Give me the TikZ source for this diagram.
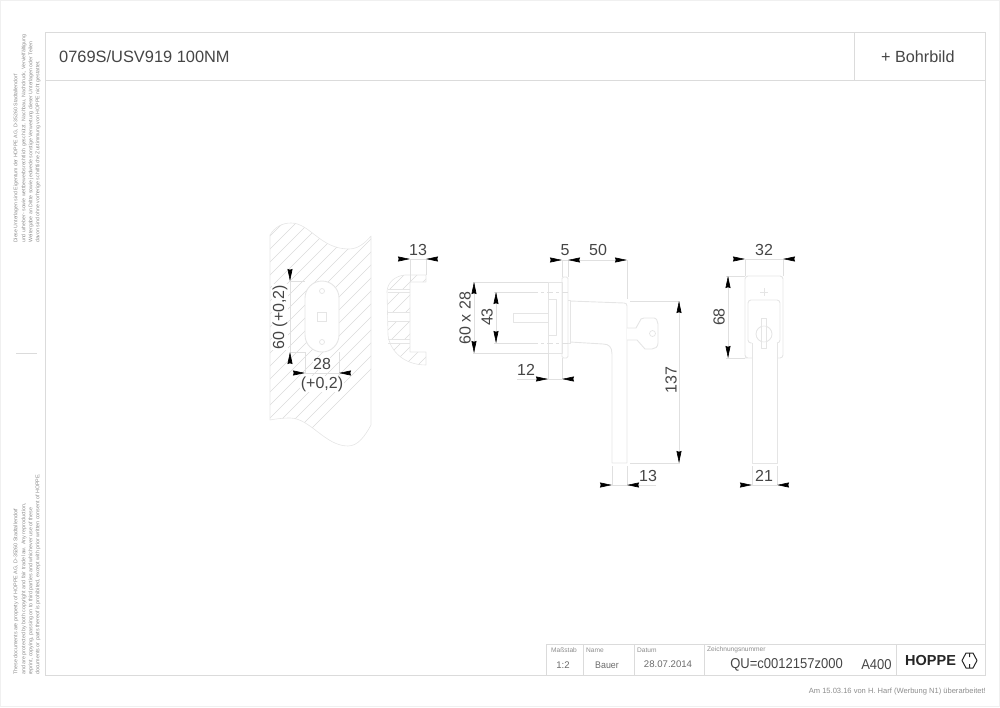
\documentclass[tikz,border=0pt]{standalone}
\usepackage{fontspec}
\setmainfont{Liberation Sans}
\usetikzlibrary{arrows.meta}
\definecolor{linegray}{rgb}{0.90,0.90,0.90}
\definecolor{dimgray}{rgb}{0.88,0.88,0.88}
\definecolor{framegray}{rgb}{0.86,0.86,0.86}
\definecolor{hatchgray}{rgb}{0.86,0.86,0.86}
\definecolor{dimtext}{rgb}{0.27,0.27,0.27}
\definecolor{smalltext}{rgb}{0.55,0.55,0.55}
\tikzset{
  part/.style={draw=linegray,line width=0.9pt,line join=round},
  thin part/.style={draw=linegray,line width=0.7pt},
  frameline/.style={draw=framegray,line width=0.9pt},
  hatchline/.style={draw=hatchgray,line width=0.6pt},
  dimline/.style={draw=dimgray,line width=0.6pt},
  dimarrow/.style={dimline,-{Stealth[black,length=12pt,width=5pt,inset=0.8pt]}},
  dimlabel/.style={text=dimtext,font=\fontsize{16}{16}\selectfont,inner sep=0.5pt},
  whitelabel/.style={dimlabel,fill=white},
  sidenote/.style={text=smalltext,font=\fontsize{5.2}{6}\selectfont,rotate=90,anchor=west,inner sep=0pt},
  sidenote en/.style={sidenote,font=\fontsize{5.35}{6}\selectfont},
  fieldhead/.style={text=smalltext,font=\fontsize{6.6}{7}\selectfont,anchor=west,inner sep=0pt},
  fieldvalue/.style={text=dimtext!80!white,font=\fontsize{9.6}{10}\selectfont,inner sep=0pt},
}
\newcommand{\hatchlines}[3]{% ymin ymax xrange-list
  \foreach \hx in {#3} {\draw[hatchline] (\hx,#2) -- ({\hx+#2-#1},#1);}}
\newcommand{\plateoutline}{(270,235) .. controls (275,227) and (282,223) .. (291,223) .. controls (310,223) and (320,249) .. (349,249) .. controls (358,249) and (365,243) .. (371,236) -- (371,425) .. controls (365,436) and (358,446) .. (348,446) .. controls (325,446) and (310,418) .. (290,418) .. controls (282,418) and (275,419) .. (270,420) -- cycle}
\newcommand{\coveroutline}{(426,275) -- (405,275) .. controls (395,276) and (388,282) .. (387,291) -- (388,335) .. controls (390,352) and (405,365) .. (426,365) -- (426,352) -- (410,352) -- (410,282) -- (426,282) -- cycle}
\begin{document}
\begin{tikzpicture}[x=1pt,y=-1pt]
\useasboundingbox (0,0) rectangle (1000,707);
\draw[draw=black!6,line width=0.8pt] (0.5,0.5) rectangle (999.5,706.5);
% sheet frame
\draw[frameline] (45,32) rectangle (985,675);
\draw[frameline] (45,80) -- (985,80);
\draw[frameline] (854,32) -- (854,80);
\node[text=dimtext,font=\fontsize{16.4}{17}\selectfont,anchor=west,inner sep=0pt] (title) at (59,57) {0769S/USV919 100NM};
\node[text=dimtext,font=\fontsize{16.2}{17}\selectfont,anchor=west,inner sep=0pt] (bohr) at (881,57) {+ Bohrbild};
% side notes
\node[sidenote] (de1) at (16,243) {Diese Unterlagen sind Eigentum der HOPPE AG, D-35260 Stadtallendorf};
\node[sidenote] (de2) at (24,243) {und urheber- sowie wettbewerbsrechtlich geschützt. Nachbau, Nachdruck, Vervielfältigung};
\node[sidenote] (de3) at (31,243) {Weitergabe an Dritte sowie jedwede sonstige Verwertung dieser Unterlagen oder Teilen};
\node[sidenote] (de4) at (38,243) {davon sind ohne vorherige schriftliche Zustimmung von HOPPE nicht gestattet.};
\draw[frameline,line width=0.5pt] (16,353) -- (37,353);
\node[sidenote en] (en1) at (16,675) {These documents are property of HOPPE AG, D-35260 Stadtallendorf};
\node[sidenote en] (en2) at (24,675) {and are protected by both copyright and fair trade law. Any reproduction,};
\node[sidenote en] (en3) at (31,675) {reprint, copying, passing on to third parties and whichever use of these};
\node[sidenote en] (en4) at (38,675) {documents or parts thereof is prohibited, except with prior written consent of HOPPE.};
% title block
\draw[frameline] (546,644) -- (985,644);
\draw[frameline] (546,644) -- (546,675);
\foreach \tx in {583,634,704,896} {\draw[frameline] (\tx,644) -- (\tx,675);}
\node[fieldhead] (h1) at (551,650) {Maßstab};
\node[fieldhead] (h2) at (586,650) {Name};
\node[fieldhead] (h3) at (637,650) {Datum};
\node[fieldhead] (h4) at (707,650) {Zeichnungsnummer};
\node[fieldvalue] (v1) at (563,665) {1:2};
\node[fieldvalue] (v2) at (607,665) {\scalebox{0.92}[1]{Bauer}};
\node[fieldvalue] (v3) at (668,664) {28.07.2014};
\node[text=dimtext,font=\fontsize{14.3}{15}\selectfont,inner sep=0pt] (v4) at (786.5,665) {\scalebox{0.91}[1]{QU=c0012157z000}};
\node[text=dimtext,font=\fontsize{14.3}{15}\selectfont,inner sep=0pt] (v5) at (876.5,665) {\scalebox{0.91}[1]{A400}};
\node[text=black!85,font=\bfseries\fontsize{14.5}{15}\selectfont,anchor=west,inner sep=0pt] (logo) at (905,660) {HOPPE};
\draw[black!85,line width=1pt,line join=round] (966,653) -- (973,653) -- (977,660.5) -- (973,668) -- (966,668) -- (962,660.5) -- cycle (969.5,653) -- (969.5,657) (969.5,664) -- (969.5,668);
\node[text=smalltext,font=\fontsize{7.55}{9}\selectfont,anchor=east,inner sep=0pt] (rev) at (986,692) {Am 15.03.16 von H. Harf (Werbung N1) überarbeitet!};
% hatched cover plate
\begin{scope}
  \clip \plateoutline;
  \hatchlines{200}{460}{20,33,...,280}
\end{scope}
\draw[part,line width=0.6pt] \plateoutline;
\draw[part,fill=white,rounded corners=17pt] (305,281) rectangle (339,352);
\draw[thin part] (322,291) circle (2.5);
\draw[thin part] (322,342) circle (2.5);
\draw[thin part] (317.5,312.5) rectangle (326.5,321.5);
% cut section of the cover
\begin{scope}
  \clip \coveroutline;
  \hatchlines{260}{380}{260,273,...,410}
  \fill[white] (380,289) rectangle (412,292.5);
  \fill[white] (380,312) rectangle (412,321);
  \fill[white] (380,339) rectangle (412,343);
\end{scope}
\draw[part,line width=0.6pt] \coveroutline;
\foreach \by in {289,292.5,312,321,339,343} {\draw[thin part] (388,\by) -- (410,\by);}
% side view of the handle
\draw[part] (548,282) rectangle (562,353);
\draw[part,rounded corners=1.5pt] (562,277) rectangle (568,358);
\draw[part] (548,299) -- (556,299) -- (556,335) -- (548,335);
\draw[part] (548,313) -- (513,313) -- (513,322) -- (548,322);
\draw[part] (568,300) -- (570,300) -- (570,343) -- (568,343);
\draw[part] (570,301) -- (624,303) .. controls (626,303) and (627,304) .. (627,306) -- (627,463) -- (612,463) -- (612,354) .. controls (612,347) and (609,344) .. (603,344) -- (570,342);
% key
\draw[part,fill=white] (627,328) -- (636,328) -- (641,319) .. controls (642,318) and (643,318) .. (644,318) -- (654,318) .. controls (656,318) and (658,321) .. (658,324) -- (658,343) .. controls (658,347) and (655,349) .. (652,349) -- (645,349) -- (637,340) -- (627,340);
\draw[thin part] (652.5,333.5) circle (3);
% front view of the handle
\draw[part,rounded corners=3pt] (752,358) -- (748,358) -- (745,358) -- (745,276) -- (783,276) -- (783,358) -- (777,358);
\draw[part,rounded corners=3pt] (752,343) -- (748,343) -- (748,300) -- (780,300) -- (780,343) -- (777,343);
\draw[part] (752,343) -- (752,463) -- (777,463) -- (777,343);
\draw[thin part] (764,288) -- (764,296) (760,292) -- (768,292);
\draw[part] (764,334) circle (8);
\draw[part,fill=white,fill opacity=0.4] (761.5,318) rectangle (766.5,348);
% dimension: 60 (+0,2)
\draw[dimline] (290,281) -- (305,281) (290,352) -- (305,352);
\draw[dimline] (290,281) -- (290,352);
\draw[dimarrow] (290,269) -- (290,281);
\draw[dimarrow] (290,364) -- (290,352);
\node[whitelabel,rotate=90] (d60) at (280,317) {60 (+0,2)};
% dimension: 28
\draw[dimline] (305,352) -- (305,373) (339,352) -- (339,373) (305,373) -- (339,373);
\draw[dimarrow] (293,373) -- (305,373);
\draw[dimarrow] (351,373) -- (339,373);
\node[whitelabel] (d28) at (322,364) {28};
\node[whitelabel] (d02) at (322,384) {(+0,2)};
% dimension: 13 cover
\draw[dimline] (410,259) -- (410,282) (426,259) -- (426,275) (410,259) -- (426,259);
\draw[dimarrow] (398,259) -- (410,259);
\draw[dimarrow] (438,259) -- (426,259);
\node[dimlabel] (d13a) at (418,250) {13};
% dimension: 5 and 50
\draw[dimline] (562,260) -- (562,277) (568,260) -- (568,277) (627,260) -- (627,299) (562,260) -- (568,260) (580,260) -- (615,260);
\draw[dimarrow] (550,260) -- (562,260);
\draw[dimarrow] (580,260) -- (568,260);
\draw[dimarrow] (615,260) -- (627,260);
\node[dimlabel] (d5) at (565,250) {5};
\node[dimlabel] (d50) at (598,250) {50};
% dimension: 60 x 28
\draw[dimline] (473,282) -- (548,282) (473,353) -- (548,353) (474,282) -- (474,353);
\draw[dimarrow] (474,294) -- (474,282);
\draw[dimarrow] (474,341) -- (474,353);
\node[dimlabel,rotate=90] (d6028) at (465,318) {60 x 28};
% dimension: 43
\draw[dimline,dash pattern=on 44pt off 3pt on 3pt off 3pt on 6pt off 3pt on 3pt off 3pt on 6pt off 2pt] (494,292) -- (568,292);
\draw[dimline,dash pattern=on 44pt off 3pt on 3pt off 3pt on 6pt off 3pt on 3pt off 3pt on 6pt off 2pt] (494,343) -- (568,343);
\draw[dimline] (496,292) -- (496,343);
\draw[dimarrow] (496,304) -- (496,292);
\draw[dimarrow] (496,331) -- (496,343);
\node[dimlabel,rotate=90] (d43) at (487,317) {43};
% dimension: 12
\draw[dimline] (548,353) -- (548,379) (562,358) -- (562,379) (517,379) -- (562,379);
\draw[dimarrow] (536,379) -- (548,379);
\draw[dimarrow] (574,379) -- (562,379);
\node[dimlabel] (d12) at (526,370) {12};
% dimension: 137
\draw[dimline] (630,301) -- (680,301) (630,463) -- (680,463) (679,301) -- (679,463);
\draw[dimarrow] (679,313) -- (679,301);
\draw[dimarrow] (679,451) -- (679,463);
\node[dimlabel,rotate=90] (d137) at (671,380) {137};
% dimension: 13 handle
\draw[dimline] (612,466) -- (612,485) (627,466) -- (627,485) (612,485) -- (656,485);
\draw[dimarrow] (600,485) -- (612,485);
\draw[dimarrow] (639,485) -- (627,485);
\node[dimlabel] (d13b) at (648,476) {13};
% dimension: 32
\draw[dimline] (745,259) -- (745,276) (783,259) -- (783,276) (745,259) -- (783,259);
\draw[dimarrow] (733,259) -- (745,259);
\draw[dimarrow] (795,259) -- (783,259);
\node[dimlabel] (d32) at (764,250) {32};
% dimension: 68
\draw[dimline] (726,276) -- (745,276) (726,358) -- (745,358) (728,276) -- (728,358);
\draw[dimarrow] (728,288) -- (728,276);
\draw[dimarrow] (728,346) -- (728,358);
\node[dimlabel,rotate=90] (d68) at (719,317) {68};
% dimension: 21
\draw[dimline] (752,466) -- (752,485) (777,466) -- (777,485) (752,485) -- (777,485);
\draw[dimarrow] (740,485) -- (752,485);
\draw[dimarrow] (789,485) -- (777,485);
\node[dimlabel] (d21) at (764,476) {21};
\end{tikzpicture}
\end{document}
